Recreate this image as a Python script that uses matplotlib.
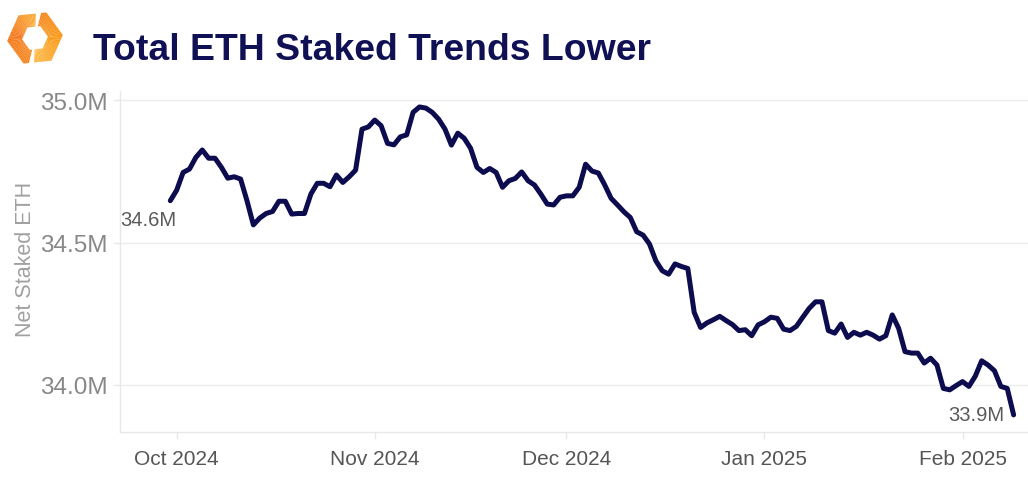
import numpy as np
import pandas as pd
import matplotlib
matplotlib.use("Agg")
from matplotlib import pyplot as plt
import matplotlib.dates as mdates
from matplotlib.ticker import FuncFormatter, FixedLocator
from matplotlib.colors import to_rgb

plt.rcParams['font.family'] = ['Liberation Sans', 'DejaVu Sans']

# net staked ETH, millions, one value per day starting 2024-09-30
start_date = '2024-09-30'
staked = [
    34.647, 34.684, 34.746, 34.758, 34.799, 34.825, 34.796, 34.796, 34.764, 34.726,
    34.731, 34.723, 34.647, 34.562, 34.586, 34.602, 34.609, 34.645, 34.645, 34.600,
    34.602, 34.602, 34.670, 34.708, 34.708, 34.696, 34.737, 34.711, 34.731, 34.754,
    34.898, 34.906, 34.930, 34.910, 34.848, 34.843, 34.871, 34.878, 34.957, 34.976,
    34.972, 34.957, 34.933, 34.898, 34.842, 34.884, 34.866, 34.831, 34.764, 34.746,
    34.760, 34.746, 34.694, 34.717, 34.725, 34.748, 34.717, 34.702, 34.670, 34.635,
    34.632, 34.659, 34.664, 34.664, 34.694, 34.775, 34.751, 34.744, 34.702, 34.655,
    34.632, 34.608, 34.588, 34.538, 34.526, 34.495, 34.436, 34.401, 34.389, 34.425,
    34.416, 34.409, 34.255, 34.202, 34.218, 34.229, 34.241, 34.226, 34.212, 34.191,
    34.194, 34.173, 34.211, 34.222, 34.238, 34.234, 34.196, 34.191, 34.206, 34.238,
    34.269, 34.292, 34.292, 34.191, 34.182, 34.214, 34.167, 34.185, 34.175, 34.185,
    34.175, 34.161, 34.173, 34.246, 34.199, 34.117, 34.112, 34.112, 34.077, 34.094,
    34.070, 33.988, 33.983, 33.998, 34.012, 33.995, 34.031, 34.085, 34.070, 34.050,
    33.995, 33.988, 33.895,
]
y_ticks = [34.0, 34.5, 35.0]
x_ticks = ['2024-10-01', '2024-11-01', '2024-12-01', '2025-01-01', '2025-02-01']
title = "Total ETH Staked Trends Lower"
ylabel = "Net Staked ETH"

dates = pd.date_range(start_date, periods=len(staked), freq='D')

navy = '#0c0c4f'
fig = plt.figure(figsize=(10.28, 4.81), dpi=100)
ax = fig.add_axes([120/1028, 1-433/481, 908/1028, 341/481])

ax.plot(dates, staked, color=navy, lw=3.6, solid_joinstyle='round', solid_capstyle='round')

ax.set_ylim(33.835, 35.032)
ax.set_xlim(pd.Timestamp('2024-09-22 03:00'), pd.Timestamp('2025-02-11 06:00'))
ax.yaxis.set_major_locator(FixedLocator(y_ticks))
ax.yaxis.set_major_formatter(FuncFormatter(lambda v, p: f"{v:.1f}M"))
ax.xaxis.set_major_locator(FixedLocator([mdates.date2num(pd.Timestamp(d)) for d in x_ticks]))
ax.xaxis.set_major_formatter(mdates.DateFormatter('%b %Y'))

ax.grid(axis='y', color='#ececec', lw=1)
ax.set_axisbelow(True)
for s in ['top', 'right']:
    ax.spines[s].set_visible(False)
for s in ['left', 'bottom']:
    ax.spines[s].set_color('#e8e8e8')
    ax.spines[s].set_linewidth(1)
ax.tick_params(axis='x', colors='#e8e8e8', length=5, width=1, pad=7, labelsize=15, labelcolor='#555555')
ax.tick_params(axis='y', colors='#e8e8e8', length=5, width=1, pad=4, labelsize=17.5, labelcolor='#888888')
ax.set_ylabel(ylabel, fontsize=15.5, color='#a0a0a0')
ax.yaxis.set_label_coords(-0.092, 0.51)

ax.annotate(f"{staked[0]:.1f}M", (dates[0], staked[0]), xytext=(4, -7), textcoords='offset points',
            ha='right', va='top', fontsize=14.5, color='#5a5a5a')
ax.annotate(f"{staked[-1]:.1f}M", (dates[-1], staked[-1]), xytext=(-6.5, 0), textcoords='offset points',
            ha='right', va='center', fontsize=14.5, color='#5a5a5a')

fig.text(93/1028, 1-60/481, title, fontsize=26.9, fontweight='bold', color='#101055', va='baseline')

# logo: hexagon ring split in two pieces with a colour gradient
lax = fig.add_axes([0, 1-80/481, 80/1028, 80/481])
lax.set_xlim(0, 80)
lax.set_ylim(-80, 0)
lax.axis('off')
cx, cy, r_out, r_in, rot = 35, -39, 28, 13, 6


def hex_r(phi, R):
    d = np.mod(phi - rot, 60) - 30
    return R * np.cos(np.radians(30)) / np.cos(np.radians(d))


def piece(a0, a1, c0, c1, c2, n=40):
    edges = np.linspace(a0, a1, n + 1)
    c0, c1, c2 = map(np.array, map(to_rgb, (c0, c1, c2)))
    for i in range(n):
        t = (i + 0.5) / n
        col = c0 + (c1 - c0) * t * 2 if t < 0.5 else c1 + (c2 - c1) * (t - 0.5) * 2
        ph = np.linspace(edges[i], edges[i + 1] + 0.3, 6)
        xo = cx + hex_r(ph, r_out) * np.cos(np.radians(ph))
        yo = cy + hex_r(ph, r_out) * np.sin(np.radians(ph))
        xi = cx + hex_r(ph, r_in) * np.cos(np.radians(ph))
        yi = cy + hex_r(ph, r_in) * np.sin(np.radians(ph))
        lax.fill(np.r_[xo, xi[::-1]], np.r_[yo, yi[::-1]], color=col, lw=0)


piece(88, 256, '#fbb03b', '#f47a20', '#f58a22')
piece(268, 436, '#fdbb4a', '#f99d1c', '#f58a1f')

fig.savefig('out.png', dpi=100)
